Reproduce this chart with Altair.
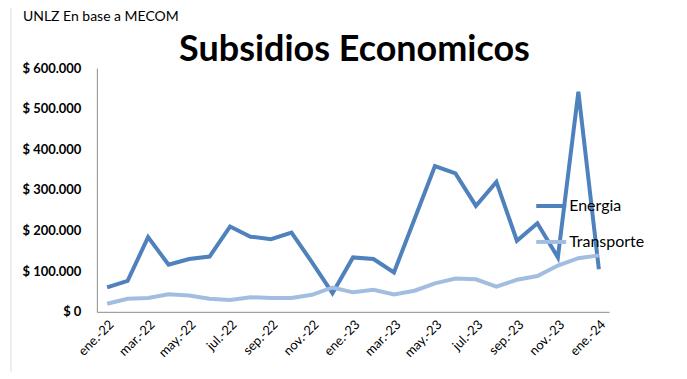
import altair as alt
import pandas as pd

months = ["ene.-22","feb.-22","mar.-22","abr.-22","may.-22","jun.-22","jul.-22","ago.-22","sep.-22","oct.-22","nov.-22","dic.-22",
          "ene.-23","feb.-23","mar.-23","abr.-23","may.-23","jun.-23","jul.-23","ago.-23","sep.-23","oct.-23","nov.-23","dic.-23","ene.-24"]
energia = [60000, 76000, 184000, 116000, 130000, 136000, 210000, 185000, 179000, 195000, 122000, 46000,
           134000, 130000, 97000, 228000, 359000, 341000, 261000, 320000, 175000, 218000, 134000, 542000, 105000]
transporte = [20000, 32000, 34000, 43000, 40000, 32000, 29000, 36000, 34000, 34000, 42000, 60000,
              48000, 54000, 43000, 52000, 70000, 82000, 80000, 62000, 79000, 88000, 114000, 132000, 139000]
series = ["Energia", "Transporte"]
shown_ticks = months[::2]

rows = []
for i, m in enumerate(months):
    rows.append({"mes": m, "serie": series[0], "valor": energia[i], "orden": i})
    rows.append({"mes": m, "serie": series[1], "valor": transporte[i], "orden": i})
df = pd.DataFrame(rows)

FONT = "Lato"

lines = alt.Chart(df).mark_line(strokeWidth=4, strokeJoin="miter").encode(
    x=alt.X("mes:O", sort=months, title=None,
            scale=alt.Scale(type="point", padding=0.5),
            axis=alt.Axis(values=shown_ticks, labelAngle=-45, labelFontSize=13, labelColor="#000000",
                          labelFont=FONT, ticks=False, domainColor="#8c8c8c", labelPadding=6)),
    y=alt.Y("valor:Q", title=None,
            scale=alt.Scale(domain=[0, 600000], nice=False),
            axis=alt.Axis(values=[0, 100000, 200000, 300000, 400000, 500000, 600000],
                          labelExpr="'$ ' + replace(format(datum.value, ',.0f'), /,/g, '.')",
                          labelFontSize=13, labelFontWeight="bold", labelFont=FONT, labelColor="#000000",
                          ticks=False, grid=False, domainColor="#8c8c8c", labelPadding=16)),
    color=alt.Color("serie:N", title=None,
                    scale=alt.Scale(domain=series, range=["#4f81bd", "#a3bde0"]),
                    legend=alt.Legend(orient="none", legendX=438, legendY=121, symbolType="stroke",
                                      symbolStrokeWidth=4, symbolSize=900, labelFontSize=16,
                                      labelFont=FONT, labelColor="#000000", rowPadding=11,
                                      labelOffset=1, symbolOffset=0, labelLimit=200)),
    order="orden:Q",
)

source = alt.Chart(pd.DataFrame({"t": ["UNLZ En base a MECOM"]})).mark_text(
    align="left", baseline="middle", fontSize=14, font=FONT, color="#000000"
).encode(text="t:N", x=alt.value(-74), y=alt.value(-51))

title = alt.Chart(pd.DataFrame({"t": ["Subsidios Economicos"]})).mark_text(
    align="center", baseline="alphabetic", fontSize=36, font=FONT, fontWeight="bold", color="#000000"
).encode(text="t:N", x=alt.value(258), y=alt.value(-7))

frame = alt.Chart(pd.DataFrame({"a": [0]})).mark_rect(fill=None, stroke="#dcdcdc", strokeWidth=1).encode(
    x=alt.value(-86), x2=alt.value(587), y=alt.value(-66), y2=alt.value(320)
)

chart = alt.layer(frame, lines, source, title).properties(
    width=513, height=244,
    background="#ffffff",
    autosize=alt.AutoSizeParams(type="none"),
    padding={"left": 89, "top": 60, "right": 70, "bottom": 60},
).configure_view(stroke=None)

chart.save("out.html", embed_options={"renderer": "svg", "actions": False})
